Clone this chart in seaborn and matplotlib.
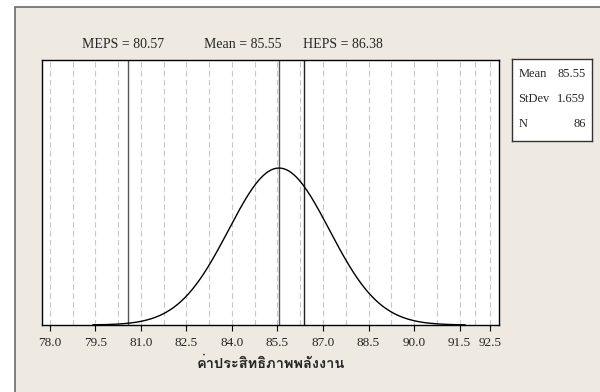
#set up modules
import numpy as np
import matplotlib
matplotlib.use("Agg")
import matplotlib.pyplot as plt
import seaborn as sns
from matplotlib import font_manager
from matplotlib.ft2font import FT2Font
from matplotlib.patches import Rectangle

#values
mean = 85.55
stdev = 1.659
n = 86
meps = 80.57
heps = 86.38
tick_values = [78.0, 79.5, 81.0, 82.5, 84.0, 85.5, 87.0, 88.5, 90.0, 91.5, 92.5]
grid_values = [78.0, 78.75, 79.5, 80.25, 81.0, 81.75, 82.5, 83.25, 84.0, 84.75,
               85.5, 86.25, 87.0, 87.75, 88.5, 89.25, 90.0, 90.75, 91.5, 92.0, 92.5]
ref_labels = ["MEPS = 80.57", "Mean = 85.55", "HEPS = 86.38"]
stat_names = ["Mean", "StDev", "N"]
stat_values = ["85.55", "1.659", "86"]
xlabel = "ค่าประสิทธิภาพพลังงาน"

#fitted normal curve from the mean and stdev
xs = np.linspace(mean - 3.7 * stdev, mean + 3.7 * stdev, 300)
pdf = np.exp(-0.5 * ((xs - mean) / stdev) ** 2) / (stdev * np.sqrt(2 * np.pi))

#find a font that has thai glyphs
thai_font = None
for f in font_manager.fontManager.ttflist:
    try:
        if 0x0E04 in FT2Font(f.fname).get_charmap():
            thai_font = f.name
            if f.weight in ("bold", 700):
                break
    except Exception:
        pass

sns.set_style("white")
plt.rcParams["font.family"] = ["Liberation Serif", "DejaVu Serif"]

bg = "#EEEAE1"
fig = plt.figure(figsize=(6, 3.92), dpi=100, facecolor="white")
fig.patches.append(Rectangle((15 / 600, -0.01), 1.0, (392 - 7) / 392 + 0.01,
                             transform=fig.transFigure, facecolor=bg,
                             edgecolor="#6a6a6a", linewidth=1.2, zorder=-5))

ax = fig.add_axes([42 / 600, (392 - 325) / 392, (499 - 42) / 600, (325 - 60) / 392])
ax.set_facecolor("white")
ax.set_zorder(2)

for g in grid_values:
    ax.axvline(g, color="#c8c8c8", linestyle=(0, (5, 3)), linewidth=0.8, zorder=1)
ax.axvline(meps, color="#555555", linewidth=1.0, zorder=2)
ax.axvline(mean, color="#555555", linewidth=1.0, zorder=2)
ax.axvline(heps, color="#222222", linewidth=1.0, zorder=2)

sns.lineplot(x=xs, y=pdf, color="black", linewidth=1.0, ax=ax, zorder=3)

ax.set_xlim(77.74, 92.8)
ax.set_ylim(0, 0.406)
ax.set_yticks([])
ax.set_xticks(tick_values)
ax.set_xticklabels(["%.1f" % t for t in tick_values], fontsize=9.5)
ax.tick_params(axis="x", direction="out", length=4, width=0.8, pad=5, color="black", bottom=True)
for s in ax.spines.values():
    s.set_color("black")
    s.set_linewidth(1.0)

#labels above the plot
ax.text(meps - 0.15, 1.035, ref_labels[0], transform=ax.get_xaxis_transform(),
        ha="center", va="bottom", fontsize=10)
ax.text(84.35, 1.035, ref_labels[1], transform=ax.get_xaxis_transform(),
        ha="center", va="bottom", fontsize=10)
ax.text(86.33, 1.035, ref_labels[2], transform=ax.get_xaxis_transform(),
        ha="left", va="bottom", fontsize=10)

ax.set_xlabel(xlabel, fontsize=10.5, fontweight="bold", labelpad=5,
              family=[thai_font or "DejaVu Sans", "Liberation Serif"])

#stats box
box = fig.add_axes([512 / 600, (392 - 141) / 392, 80 / 600, 82 / 392])
box.set_facecolor("white")
box.set_zorder(2)
box.set_xticks([])
box.set_yticks([])
for s in box.spines.values():
    s.set_color("#333333")
    s.set_linewidth(1.0)
for i, (name, val) in enumerate(zip(stat_names, stat_values)):
    y = 0.82 - i * 0.305
    box.text(0.08, y, name, ha="left", va="center", fontsize=9, transform=box.transAxes)
    box.text(0.92, y, val, ha="right", va="center", fontsize=9, transform=box.transAxes)

plt.savefig("out.png", dpi=100, facecolor=fig.get_facecolor())
